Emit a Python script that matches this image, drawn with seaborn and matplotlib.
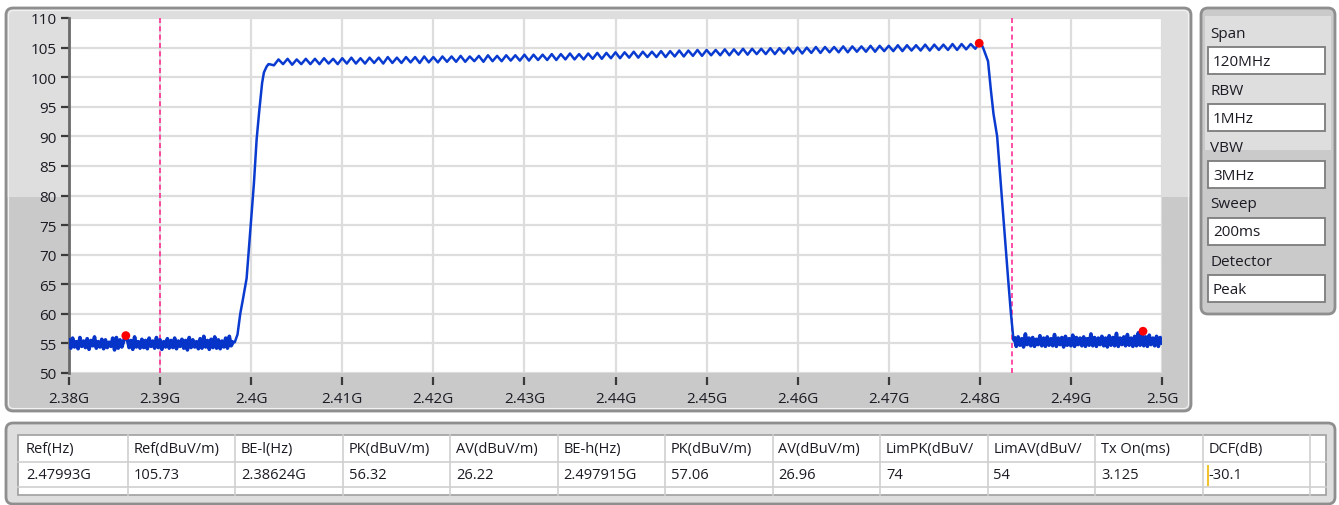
import numpy as np
import pandas as pd
import matplotlib
matplotlib.use("Agg")
import matplotlib.pyplot as plt
import seaborn as sns
from matplotlib.patches import FancyBboxPatch, Rectangle

# ---------------- data ----------------
x_ticks = [2.38, 2.39, 2.40, 2.41, 2.42, 2.43, 2.44, 2.45, 2.46, 2.47, 2.48, 2.49, 2.50]
x_tick_labels = ["2.38G", "2.39G", "2.4G", "2.41G", "2.42G", "2.43G", "2.44G",
                 "2.45G", "2.46G", "2.47G", "2.48G", "2.49G", "2.5G"]
y_ticks = [50, 55, 60, 65, 70, 75, 80, 85, 90, 95, 100, 105, 110]

# noise floor below the band (2.3800 .. 2.3980 GHz, 0.2 MHz steps)
floor_left_freq = np.linspace(2.3800, 2.3980, 91)
floor_left_level = [
    55.6, 54.2, 55.9, 54.4, 55.3, 54.1, 56.0, 54.5, 55.4, 54.3,
    55.8, 54.0, 55.5, 54.6, 56.1, 54.2, 55.3, 54.4, 55.7, 54.1,
    55.6, 54.3, 55.2, 54.5, 55.9, 53.9, 56.0, 54.2, 55.6, 54.4,
    55.4, 56.3, 55.8, 54.3, 55.5, 54.0, 56.1, 54.4, 55.3, 54.2,
    55.7, 54.3, 55.5, 54.1, 55.9, 54.5, 55.4, 54.2, 56.0, 54.3,
    55.6, 54.0, 55.3, 54.4, 55.8, 54.2, 55.5, 54.3, 55.9, 54.1,
    55.4, 54.5, 55.7, 54.2, 55.5, 53.9, 56.0, 54.3, 55.6, 54.4,
    55.3, 54.1, 55.8, 54.2, 56.2, 54.4, 55.5, 54.0, 55.7, 54.3,
    56.1, 54.2, 55.6, 54.1, 55.4, 54.4, 55.9, 54.2, 56.2, 54.6,
    55.2,
]

# rising edge
rise_freq = [2.3982, 2.3985, 2.3988, 2.3991, 2.3995, 2.3999, 2.4003, 2.4006,
             2.4009, 2.4012, 2.4014, 2.4017, 2.4019]
rise_level = [55.2, 56.5, 60.0, 62.5, 66.0, 74.0, 82.0, 89.5,
              94.5, 99.0, 100.8, 101.8, 102.2]

# in-band plateau with ripple (2.4020 .. 2.4795 GHz, 0.5 MHz steps)
plateau_freq = np.linspace(2.4020, 2.4795, 156)
plateau_level = [
    102.2, 102.0, 103.0, 102.2, 103.1, 102.1, 103.0, 102.2, 103.1, 102.2,
    103.1, 102.2, 103.2, 102.3, 103.1, 102.2, 103.2, 102.3, 103.3, 102.3,
    103.2, 102.3, 103.3, 102.4, 103.3, 102.3, 103.4, 102.4, 103.3, 102.4,
    103.4, 102.5, 103.4, 102.4, 103.5, 102.5, 103.4, 102.5, 103.5, 102.6,
    103.5, 102.6, 103.6, 102.6, 103.5, 102.7, 103.6, 102.6, 103.7, 102.7,
    103.6, 102.7, 103.7, 102.8, 103.7, 102.8, 103.8, 102.8, 103.8, 102.9,
    103.8, 102.9, 103.9, 102.9, 103.9, 103.0, 104.0, 103.0, 103.9, 103.0,
    104.0, 103.1, 104.1, 103.1, 104.1, 103.2, 104.2, 103.2, 104.2, 103.3,
    104.3, 103.3, 104.3, 103.4, 104.3, 103.4, 104.4, 103.4, 104.4, 103.5,
    104.5, 103.5, 104.5, 103.6, 104.6, 103.6, 104.6, 103.7, 104.6, 103.7,
    104.7, 103.7, 104.7, 103.8, 104.8, 103.8, 104.8, 103.9, 104.8, 103.9,
    104.9, 103.9, 104.9, 104.0, 105.0, 104.0, 105.0, 104.0, 105.0, 104.1,
    105.1, 104.1, 105.1, 104.2, 105.1, 104.2, 105.2, 104.2, 105.2, 104.3,
    105.2, 104.3, 105.3, 104.3, 105.3, 104.4, 105.3, 104.4, 105.4, 104.4,
    105.4, 104.5, 105.4, 104.5, 105.5, 104.5, 105.5, 104.6, 105.5, 104.6,
    105.6, 104.6, 105.6, 104.7, 105.6, 104.8,
]

# falling edge
fall_freq = [2.47993, 2.4802, 2.4804, 2.4809, 2.4812, 2.4815, 2.4819, 2.4824,
             2.4828, 2.4831, 2.4834, 2.4836, 2.4837]
fall_level = [105.73, 105.5, 104.8, 102.7, 98.0, 93.8, 90.0, 80.0,
              72.0, 66.0, 60.3, 57.0, 55.5]

# noise floor above the band (2.4838 .. 2.5000 GHz, 0.2 MHz steps)
floor_right_freq = np.linspace(2.4838, 2.5000, 82)
floor_right_level = [
    55.9, 54.5, 56.1, 54.7, 55.8, 54.4, 56.6, 54.8, 55.9, 54.6,
    56.0, 54.5, 55.7, 54.8, 56.3, 54.6, 55.9, 54.5, 56.1, 54.7,
    55.8, 54.6, 56.5, 54.5, 55.9, 54.8, 56.0, 54.4, 56.2, 54.7,
    55.8, 54.6, 56.4, 54.5, 56.0, 54.8, 55.9, 54.6, 56.1, 54.5,
    55.8, 54.7, 56.6, 54.6, 56.0, 54.5, 55.9, 54.8, 56.2, 54.6,
    55.9, 54.4, 56.3, 54.7, 56.0, 54.6, 56.7, 54.5, 55.9, 54.8,
    56.1, 54.6, 56.5, 54.7, 55.9, 54.5, 56.2, 54.6, 56.8, 54.7,
    57.0, 54.6, 56.1, 54.5, 56.4, 54.8, 55.9, 54.6, 56.2, 54.5,
    56.0, 55.1,
]

marker_freq = [2.38624, 2.47993, 2.497915]
marker_level = [56.32, 105.73, 57.06]
band_edge_lines = [2.39, 2.4835]

settings_labels = ["Span", "RBW", "VBW", "Sweep", "Detector"]
settings_values = ["120MHz", "1MHz", "3MHz", "200ms", "Peak"]

table_headers = ["Ref(Hz)", "Ref(dBuV/m)", "BE-l(Hz)", "PK(dBuV/m)", "AV(dBuV/m)",
                 "BE-h(Hz)", "PK(dBuV/m)", "AV(dBuV/m)", "LimPK(dBuV/",
                 "LimAV(dBuV/", "Tx On(ms)", "DCF(dB)"]
table_values = ["2.47993G", "105.73", "2.38624G", "56.32", "26.22", "2.497915G",
                "57.06", "26.96", "74", "54", "3.125", "-30.1"]

# ---------------- figure ----------------
FONT = ["Open Sans", "DejaVu Sans"]
plt.rcParams["font.family"] = FONT
TXT = "#1b1b24"

W, H = 1339, 506
fig = plt.figure(figsize=(W / 100, H / 100), dpi=100, facecolor="white")

bg = fig.add_axes([0, 0, 1, 1])
bg.set_xlim(0, W)
bg.set_ylim(H, 0)
bg.axis("off")

# main chart panel
panel = FancyBboxPatch((6, 9), 1185, 403, boxstyle="round,pad=0,rounding_size=7",
                       fc="#dedede", ec="none")
bg.add_patch(panel)
lower = Rectangle((0, 198), 1200, 220, fc="#c9c9c9", ec="none")
bg.add_patch(lower)
lower.set_clip_path(panel)
bg.add_patch(FancyBboxPatch((6, 9), 1185, 403, boxstyle="round,pad=0,rounding_size=7",
                            fc="none", ec="#8e8e8e", lw=2))
bg.add_patch(FancyBboxPatch((8.5, 11.5), 1180, 398, boxstyle="round,pad=0,rounding_size=5",
                            fc="none", ec="#f2f2f2", lw=0.8))

# settings panel
spanel = FancyBboxPatch((1201, 9), 134, 306, boxstyle="round,pad=0,rounding_size=7",
                        fc="#cacaca", ec="none")
bg.add_patch(spanel)
bg.add_patch(Rectangle((1205, 17), 126, 134, fc="#dedede", ec="none"))
bg.add_patch(FancyBboxPatch((1201, 9), 134, 306, boxstyle="round,pad=0,rounding_size=7",
                            fc="none", ec="#8e8e8e", lw=2))
for i, (lab, val) in enumerate(zip(settings_labels, settings_values)):
    y0 = 34 + i * 57
    bg.text(1210, y0, lab, fontsize=11, color=TXT, va="center", ha="left")
    bg.add_patch(Rectangle((1208, y0 + 14), 117, 27, fc="white", ec="#7c7c7c", lw=1.3))
    bg.text(1213, y0 + 28, val, fontsize=11, color=TXT, va="center", ha="left")

# table panel
bg.add_patch(FancyBboxPatch((6, 424), 1329, 81, boxstyle="round,pad=0,rounding_size=7",
                            fc="#dedede", ec="#8e8e8e", lw=2))
bg.add_patch(Rectangle((18, 436), 1308, 60, fc="white", ec="#a0a0a0", lw=1.2))
col_x = [20, 127.5, 235, 342.5, 450, 557.5, 665, 772.5, 880, 987.5, 1095, 1202.5, 1310]
for cx in col_x[1:]:
    bg.plot([cx, cx], [436, 496], color="#cfcfcf", lw=1.2)
for ry in (463, 488):
    bg.plot([18, 1326], [ry, ry], color="#cfcfcf", lw=1.2)
for i, (hd, vl) in enumerate(zip(table_headers, table_values)):
    bg.text(col_x[i] + 6, 450, hd, fontsize=10.5, color=TXT, va="center", ha="left")
    bg.text(col_x[i] + 6, 476, vl, fontsize=10.5, color=TXT, va="center", ha="left")
bg.plot([1208, 1208], [467, 486], color="#f2c230", lw=1.5)

# ---------------- chart ----------------
ax = fig.add_axes([69 / W, 1 - 374 / H, (1162 - 69) / W, (374 - 19) / H])
ax.set_facecolor("white")

trace = pd.DataFrame({
    "freq": np.concatenate([floor_left_freq, rise_freq, plateau_freq, fall_freq,
                            floor_right_freq]),
    "level": np.concatenate([floor_left_level, rise_level, plateau_level, fall_level,
                             floor_right_level]),
})
sns.lineplot(data=trace, x="freq", y="level", ax=ax, color="#0a3bd0", lw=1.8,
             estimator=None, sort=False, legend=False, zorder=3)
# the dense noise floor is drawn a little heavier, as on the analyser
for fq, lv in ((floor_left_freq, floor_left_level), (floor_right_freq, floor_right_level)):
    sns.lineplot(x=fq, y=lv, ax=ax, color="#0634c8", lw=2.6, estimator=None,
                 sort=False, legend=False, zorder=3)

for xv in band_edge_lines:
    ax.axvline(xv, color="#ff2f96", lw=1.2, ls=(0, (3, 2)), zorder=2)

sns.scatterplot(x=marker_freq, y=marker_level, ax=ax, color="#ff0000", s=40,
                edgecolor="none", zorder=5, legend=False)

ax.set_xlim(2.38, 2.50)
ax.set_ylim(50, 110)
ax.set_xticks(x_ticks)
ax.set_xticklabels(x_tick_labels)
ax.set_yticks(y_ticks)
ax.set_yticklabels([str(v) for v in y_ticks])
ax.set_xlabel("")
ax.set_ylabel("")
ax.grid(True, color="#dddddd", lw=1.6, zorder=0)
ax.set_axisbelow(True)
for s in ("top", "right"):
    ax.spines[s].set_visible(False)
ax.spines["bottom"].set_position(("outward", 3))
ax.spines["bottom"].set_visible(False)
ax.spines["left"].set_color("#6a6a6a")
ax.spines["left"].set_linewidth(2)
ax.tick_params(axis="both", direction="out", length=6, width=1.6, colors="#3a3a3a",
               labelsize=11, labelcolor=TXT)
ax.tick_params(axis="x", pad=4)
ax.tick_params(axis="y", pad=3)

fig.savefig("out.png", dpi=100, facecolor="white")
